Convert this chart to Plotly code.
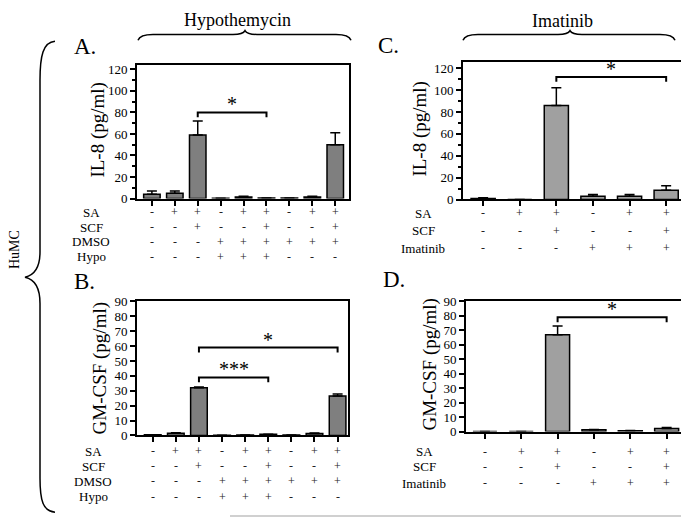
import plotly.graph_objects as go

# page body has an 8px margin, so the figure is drawn 8px in from the corner
OFF = 8
W, H = 689 - OFF, 526 - OFF
SERIF = "Liberation Serif"

# ---- data ----
hypo_sa = ["-", "+", "+", "-", "+", "+", "-", "+", "+"]
hypo_scf = ["-", "-", "+", "-", "-", "+", "-", "-", "+"]
hypo_dmso = ["-", "-", "-", "+", "+", "+", "+", "+", "+"]
hypo_hypo = ["-", "-", "-", "+", "+", "+", "-", "-", "-"]

imat_sa = ["-", "+", "+", "-", "+", "+"]
imat_scf = ["-", "-", "+", "-", "-", "+"]
imat_imatinib = ["-", "-", "-", "+", "+", "+"]

il8_hypo = [4, 5, 59, 0.3, 1.5, 0.4, 0.4, 1.5, 50]
il8_hypo_err = [3, 2, 13, 0, 0.5, 0, 0, 0.5, 11]
gmcsf_hypo = [0.5, 1.5, 32, 0.2, 0.3, 0.8, 0.3, 1.3, 26.5]
gmcsf_hypo_err = [0, 0.3, 0.5, 0, 0, 0, 0, 0.3, 1.3]

il8_imat = [1, 0, 86, 3, 3, 8.5]
il8_imat_err = [0.5, 0, 16, 1.5, 1.5, 4]
gmcsf_imat = [0, 0, 67, 1.2, 0.6, 2.2]
gmcsf_imat_err = [0, 0, 6, 0.3, 0.2, 0.6]

# significance: (from bar, to bar, height, label)
sig_a = [(2, 5, 80, "*")]
sig_b = [(2, 5, 39, "***"), (2, 8, 59, "*")]
sig_c = [(2, 5, 112, "*")]
sig_d = [(2, 5, 79, "*")]


def px(x, y):
    # reference pixel -> paper coords
    return (x - OFF) / W, 1 - (y - OFF) / H


def path(points):
    out = ""
    for cmd, pts in points:
        out += cmd + " " + " ".join("%.5f,%.5f" % px(x, y) for x, y in pts) + " "
    return out.strip()


def txt(x, y, text, size, **kw):
    a = dict(x=x, y=y, xref="paper", yref="paper", text=text, showarrow=False,
             xanchor="center", yanchor="middle", borderpad=0,
             font=dict(family=SERIF, size=size, color="black"))
    a.update(kw)
    return a


fig = go.Figure()

panels = [
    dict(label="A.", ax="", vals=il8_hypo, errs=il8_hypo_err, color="#7f7f7f",
         box=(137, 349, 59, 197), yr=[0, 124.5], xr=[-0.65, 8.6], dtick=20, minor=10, width=0.72,
         sig=sig_a, ytitle="IL-8 (pg/ml)", tpos=(98, 126), lpos=(73, 40),
         rows=[("SA", hypo_sa, 211), ("SCF", hypo_scf, 226.5), ("DMSO", hypo_dmso, 241.5), ("Hypo", hypo_hypo, 257)],
         rowx=91),
    dict(label="B.", ax="2", vals=gmcsf_hypo, errs=gmcsf_hypo_err, color="#7f7f7f",
         box=(137, 348, 303, 441), yr=[0, 90], xr=[-0.68, 8.45], dtick=10, minor=None, width=0.72,
         sig=sig_b, ytitle="GM-CSF (pg/ml)", tpos=(100, 372), lpos=(73, 282),
         rows=[("SA", hypo_sa, 457.5), ("SCF", hypo_scf, 472.5), ("DMSO", hypo_dmso, 488), ("Hypo", hypo_hypo, 504)],
         rowx=93),
    dict(label="C.", ax="3", vals=il8_imat, errs=il8_imat_err, color="#a0a0a0",
         box=(463, 683, 56, 198), yr=[0, 126], xr=[-0.55, 5.46], dtick=20, minor=10, width=0.66,
         sig=sig_c, ytitle="IL-8 (pg/ml)", tpos=(420, 125), lpos=(377, 39),
         rows=[("SA", imat_sa, 212), ("SCF", imat_scf, 230), ("Imatinib", imat_imatinib, 248)],
         rowx=423),
    dict(label="D.", ax="4", vals=gmcsf_imat, errs=gmcsf_imat_err, color="#a0a0a0",
         box=(466, 683, 303, 437), yr=[0, 90], xr=[-0.52, 5.45], dtick=10, minor=None, width=0.66,
         sig=sig_d, ytitle="GM-CSF (pg/ml)", tpos=(430, 368), lpos=(382, 280),
         rows=[("SA", imat_sa, 458), ("SCF", imat_scf, 473), ("Imatinib", imat_imatinib, 490)],
         rowx=424),
]

annotations = []
shapes = []

for p in panels:
    xa, ya = "x" + p["ax"], "y" + p["ax"]
    n = len(p["vals"])
    l, r, t, b = p["box"]
    x0, y0 = px(l, b)
    x1, y1 = px(r, t)
    fig.add_trace(go.Bar(
        x=list(range(n)), y=p["vals"], width=p["width"],
        marker=dict(color=p["color"], line=dict(color="black", width=1.5)),
        error_y=dict(type="data", symmetric=False, array=p["errs"], arrayminus=[0] * n,
                     color="black", thickness=1.5, width=5),
        xaxis=xa, yaxis=ya, showlegend=False, hoverinfo="skip",
    ))

    ax_common = dict(showline=True, linewidth=2, linecolor="black", mirror=True,
                     showgrid=False, zeroline=False, ticks="outside", tickcolor="black")
    minor = dict(dtick=p["minor"], ticks="outside", ticklen=3, tickcolor="black") if p["minor"] else None
    fig.update_layout(**{
        "xaxis" + p["ax"]: dict(ax_common, domain=[x0, x1], range=p["xr"], anchor=ya,
                                tickvals=list(range(n)), showticklabels=False, ticklen=5, tickwidth=2),
        "yaxis" + p["ax"]: dict(ax_common, domain=[y0, y1], range=p["yr"], anchor=xa,
                                dtick=p["dtick"], tick0=0, ticklen=5, tickwidth=1.5,
                                tickfont=dict(family=SERIF, size=13, color="black"),
                                **({"minor": minor} if minor else {})),
    })

    # significance brackets
    drop = 5 * (p["yr"][1] - p["yr"][0]) / (b - t)
    for i0, i1, yv, lab in p["sig"]:
        fig.add_trace(go.Scatter(
            x=[i0, i0, i1, i1], y=[yv - drop, yv, yv, yv - drop], mode="lines",
            line=dict(color="black", width=2), xaxis=xa, yaxis=ya,
            showlegend=False, hoverinfo="skip", cliponaxis=False,
        ))
        annotations.append(dict(x=(i0 + i1) / 2, y=yv, xref=xa, yref=ya, text=lab,
                                showarrow=False, xanchor="center", yanchor="bottom", yshift=-5,
                                font=dict(family=SERIF, size=20, color="black")))

    annotations.append(txt(*px(*p["tpos"]), p["ytitle"], 19, textangle=-90))
    annotations.append(txt(*px(*p["lpos"]), p["label"], 23, xanchor="left"))
    for name, signs, ry in p["rows"]:
        rx, ryp = px(p["rowx"], ry)
        annotations.append(txt(rx, ryp, name, 13))
        for i, s in enumerate(signs):
            annotations.append(dict(x=i, y=ryp, xref=xa, yref="paper", text=s, showarrow=False,
                                    xanchor="center", yanchor="middle", borderpad=0,
                                    font=dict(family=SERIF, size=12, color="#222")))

# top group labels
annotations.append(txt(*px(237, 13), "Hypothemycin", 18))
annotations.append(txt(*px(562, 14), "Imatinib", 18))
annotations.append(txt(*px(15, 250), "HuMC", 14, textangle=-90))

# braces
for bx0, bxm, bx1 in [(138, 245, 351), (463, 570, 675)]:
    shapes.append(dict(type="path", xref="paper", yref="paper",
                       line=dict(color="black", width=1.5),
                       path=path([("M", [(bx0, 34)]), ("Q", [(bx0 + 2, 28), (bx0 + 15, 28)]),
                                  ("L", [(bxm - 12, 28)]), ("Q", [(bxm - 2, 28), (bxm, 24)]),
                                  ("Q", [(bxm + 2, 28), (bxm + 12, 28)]),
                                  ("L", [(bx1 - 15, 28)]), ("Q", [(bx1 - 2, 28), (bx1, 34)])])))

shapes.append(dict(type="path", xref="paper", yref="paper", line=dict(color="black", width=1.5),
                   path=path([("M", [(55, 35)]), ("C", [(43, 36), (40, 50), (40, 75)]),
                              ("L", [(40, 252)]), ("C", [(40, 268), (34, 276), (25, 278)]),
                              ("C", [(34, 280), (40, 288), (40, 305)]),
                              ("L", [(40, 485)]), ("C", [(40, 508), (43, 519), (55, 520)])])))

gx0, gy = px(230, 524)
shapes.append(dict(type="line", xref="paper", yref="paper", x0=gx0, x1=1, y0=gy, y1=gy,
                   line=dict(color="#c0c0c0", width=1.5)))

fig.update_layout(
    width=W, height=H, margin=dict(l=0, r=0, t=0, b=0),
    paper_bgcolor="white", plot_bgcolor="white",
    font=dict(family=SERIF, color="black"),
    annotations=annotations, shapes=shapes, showlegend=False,
)

fig.write_html("out.html")
